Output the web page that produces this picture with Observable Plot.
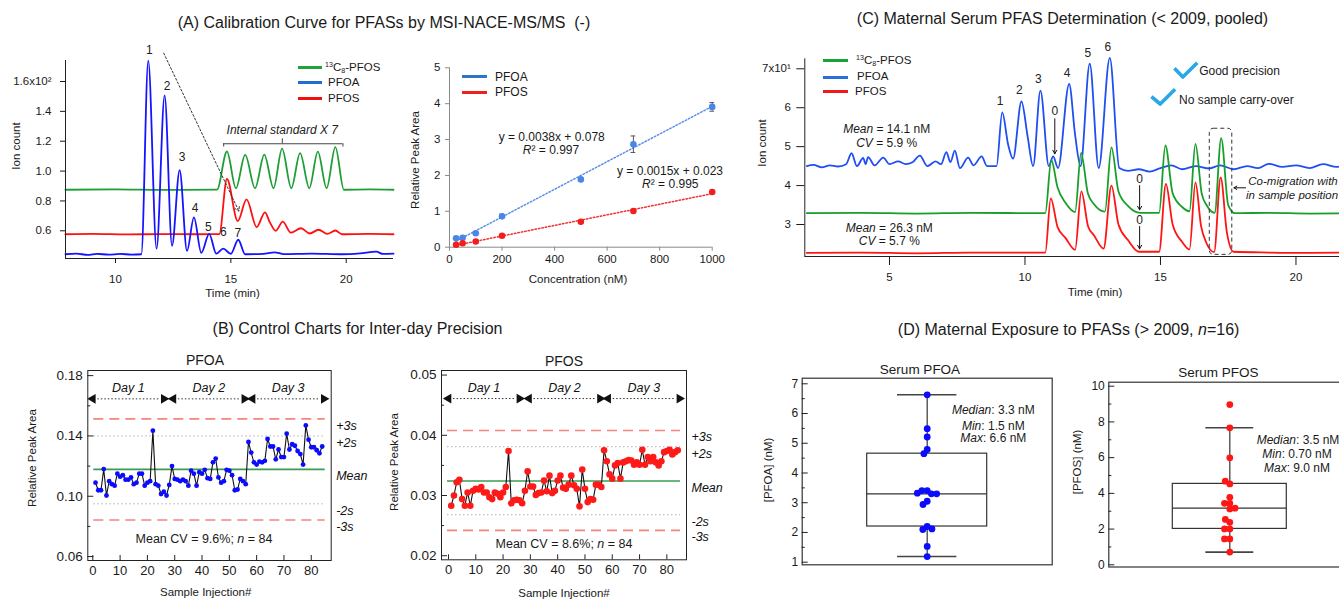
<!DOCTYPE html>
<html><head><meta charset="utf-8">
<script src="https://cdn.jsdelivr.net/npm/d3@7"></script>
<script src="https://cdn.jsdelivr.net/npm/@observablehq/plot@0.6"></script>
<style>
html,body{margin:0;padding:0;background:#fff;overflow:hidden;}
#root{position:relative;width:1339px;height:600px;overflow:hidden;font-family:Arial,"Liberation Sans",Helvetica,sans-serif;color:#1a1a1a;background:#fff;}
.t{position:absolute;white-space:nowrap;line-height:1;}
.sw{position:absolute;height:3px;}
</style></head><body><div id="root"></div>
<script>
// ---------------- DATA ----------------
// (A) chromatogram traces [time (min), ion count]
const aPFOA = [[7.83,0.443],[8.3,0.447],[8.8,0.439],[9.2,0.446],[9.7,0.44],[10.2,0.445],[10.7,0.441],[11.12,0.443],[11.42,1.74],[11.78,0.48],[12.13,1.507],[12.45,0.50],[12.78,1.007],[13.1,0.465],[13.4,0.69],[13.72,0.452],[14.06,0.58],[14.37,0.447],[14.67,0.48],[15.0,0.446],[15.32,0.54],[15.62,0.443],[16.4,0.446],[16.9,0.456],[17.3,0.444],[18.5,0.447],[19.8,0.443],[20.6,0.449],[21.3,0.46],[21.6,0.445],[22.05,0.447]];
const aPFOS = [[7.83,0.577],[9,0.579],[10.5,0.576],[12,0.578],[13.5,0.577],[14.5,0.578],[14.83,0.947],[15.3,0.665],[15.68,0.81],[16.12,0.625],[16.48,0.724],[16.68,0.66],[16.95,0.6],[17.25,0.662],[17.6,0.588],[18.04,0.617],[18.42,0.582],[18.8,0.607],[19.18,0.58],[19.53,0.602],[19.82,0.577],[21,0.579],[22.05,0.577]];
const aIS = [[7.83,0.875],[10,0.877],[12,0.874],[14.4,0.876],[14.83,1.131],[15.22,0.885],[15.62,1.108],[16.05,0.885],[16.45,1.11],[16.85,0.885],[17.22,1.15],[17.62,0.885],[18.0,1.12],[18.4,0.885],[18.77,1.13],[19.15,0.885],[19.53,1.16],[19.9,0.875],[21,0.877],[22.05,0.875]];
const aPeakNum = ["1","2","3","4","5","6","7"];
const aPeakLabelT = [11.47,12.24,12.89,13.45,14.02,14.67,15.3];
const aPeakLabelV = [1.812,1.567,1.093,0.754,0.624,0.591,0.587];
const aYTicks = [0.6,0.8,1.0,1.2,1.4,1.6];
const aXTicks = [10,15,20];

// (A) calibration
const calConc = [25,50,100,200,500,700,1000];
const calPFOA = [0.25,0.26,0.39,0.86,1.89,2.87,3.91];
const calPFOAerr = [0.02,0.02,0.02,0.06,0.03,0.23,0.12];
const calPFOS = [0.07,0.11,0.16,0.32,0.71,1.01,1.54];
const calXTicks = [0,200,400,600,800,1000];
const calYTicks = [0,1,2,3,4,5];

// (B) control charts
const ctrlPFOA = [0.109,0.104,0.104,0.118,0.1005,0.110,0.108,0.107,0.115,0.113,0.114,0.111,0.111,0.1125,0.108,0.109,0.115,0.115,0.107,0.109,0.110,0.1435,0.108,0.107,0.1015,0.103,0.1005,0.1075,0.120,0.1115,0.111,0.110,0.111,0.110,0.107,0.117,0.115,0.107,0.116,0.115,0.1175,0.112,0.1115,0.1225,0.125,0.1125,0.109,0.110,0.1175,0.117,0.114,0.104,0.1045,0.1115,0.110,0.108,0.136,0.129,0.1225,0.121,0.123,0.1225,0.1235,0.138,0.133,0.133,0.1245,0.131,0.126,0.126,0.1415,0.131,0.1345,0.1335,0.130,0.128,0.121,0.147,0.1375,0.1325,0.1325,0.1305,0.1285,0.133];
const ctrlPFOS = [0.0283,0.0300,0.0322,0.0326,0.0294,0.0283,0.0305,0.0283,0.0308,0.0311,0.0310,0.0314,0.0305,0.0305,0.0297,0.0294,0.0305,0.0303,0.0297,0.0305,0.0314,0.0374,0.0287,0.0292,0.0293,0.0292,0.0287,0.0308,0.0340,0.0315,0.0315,0.0301,0.0304,0.0305,0.0325,0.0307,0.0333,0.0304,0.0308,0.0325,0.0333,0.0313,0.0311,0.0318,0.0333,0.0317,0.0311,0.0282,0.0343,0.0311,0.0289,0.0294,0.0293,0.0318,0.0318,0.0314,0.0375,0.0357,0.0335,0.0328,0.0350,0.0354,0.0328,0.0355,0.0357,0.0359,0.0358,0.0351,0.0355,0.0351,0.0376,0.0351,0.0364,0.0357,0.0364,0.0355,0.0350,0.0357,0.0372,0.0374,0.0376,0.0368,0.0372,0.0375];
const limitLabels = ["+3s","+2s","Mean","-2s","-3s"];
const limitKinds = ["3s","2s","mean","2s","3s"];
const limitsPFOA = [0.1513,0.1400,0.1178,0.0950,0.0843];
const limitsPFOS = [0.0408,0.0381,0.0324,0.0268,0.0242];
const dayNames = ["Day 1","Day 2","Day 3"];
const dayStart = [0,29.5,58.5];
const dayEnd = [26,55.5,84.6];
const ctrlXTicks = [0,10,20,30,40,50,60,70,80];

// (C) maternal serum electropherogram
const cPFOA = [[1.95,4.50],[2.2,4.53],[2.5,4.47],[2.8,4.52],[3.1,4.49],[3.4,4.55],[3.6,4.83],[3.8,4.5],[4.03,4.71],[4.12,4.55],[4.21,4.73],[4.45,4.52],[4.77,4.72],[5.0,4.55],[5.32,4.62],[5.6,4.55],[5.85,4.6],[6.12,4.77],[6.4,4.5],[6.7,4.62],[6.9,4.55],[7.1,4.86],[7.25,4.6],[7.41,4.9],[7.6,4.45],[7.9,4.72],[8.1,4.52],[8.4,4.75],[8.6,4.5],[8.95,4.5],[9.16,5.88],[9.38,5.05],[9.56,4.69],[9.87,6.16],[10.1,5.25],[10.3,4.5],[10.57,6.44],[10.88,4.5],[11.04,4.75],[11.22,4.45],[11.63,6.61],[11.85,5.3],[12.05,4.5],[12.39,7.13],[12.72,4.45],[13.13,7.28],[13.48,4.45],[13.8,4.38],[14.2,4.42],[14.6,4.36],[15.0,4.45],[15.4,4.52],[15.8,4.42],[16.3,4.5],[16.8,4.44],[17.2,4.52],[17.7,4.42],[18.2,4.5],[18.6,4.45],[19.0,4.56],[19.5,4.48],[20,4.52],[20.5,4.45],[21,4.55],[21.5,4.48],[22,4.55],[22.3,4.5]];
const cIS = [[1.95,3.29],[4,3.3],[6,3.28],[8,3.3],[10.75,3.29],[10.97,4.66],[11.2,3.96],[11.5,3.55],[11.85,3.32],[12.07,4.84],[12.32,3.8],[12.55,3.52],[12.95,3.33],[13.19,4.98],[13.45,3.85],[13.8,3.48],[14.25,3.3],[14.95,3.3],[15.18,5.03],[15.45,3.8],[15.8,3.45],[16.07,3.34],[16.29,5.07],[16.52,3.8],[16.7,3.5],[17.0,3.3],[17.24,5.22],[17.5,3.5],[17.75,3.29],[19,3.3],[20.5,3.28],[22.3,3.29]];
const cPFOS = [[1.95,2.27],[4,2.28],[6,2.26],[8,2.28],[10.75,2.28],[10.95,3.67],[11.2,2.94],[11.5,2.65],[11.85,2.35],[12.08,3.85],[12.33,2.95],[12.55,2.72],[12.9,2.38],[13.19,4.0],[13.45,3.0],[13.8,2.6],[14.2,2.3],[14.95,2.3],[15.2,4.04],[15.45,3.0],[15.8,2.55],[16.07,2.36],[16.29,4.08],[16.5,2.95],[16.68,2.55],[16.98,2.29],[17.22,4.21],[17.45,2.8],[17.7,2.3],[19,2.28],[20.5,2.27],[22.3,2.28]];
const cPeakNum = ["1","2","3","4","5","6"];
const cPeakT = [9.16,9.87,10.57,11.63,12.39,13.13];
const cPeakV = [5.88,6.16,6.44,6.61,7.13,7.28];
const cZeroT = [11.1,14.23,14.23];
const cZeroFrom = [5.716,4.0,2.949];
const cZeroTo = [4.817,3.378,2.376];
const cZeroLabelV = [5.903,4.174,3.103];
const cYTicks = [3,4,5,6,7];
const cXTicks = [5,10,15,20];

// (D) maternal exposure, n=16
const serumPFOA = [6.63,5.49,5.21,4.79,4.65,3.41,3.41,3.30,3.30,3.32,3.05,2.94,2.20,2.10,2.12,1.53,1.19];
const serumPFOS = [8.97,7.67,5.99,4.53,4.68,3.78,3.44,3.44,3.13,3.17,2.38,2.54,2.01,2.01,1.45,1.45,0.71];

// ---------------- HELPERS ----------------
const root = document.getElementById("root");
const FONT = "Arial, 'Liberation Sans', Helvetica, sans-serif";
const common = {background:"transparent", fontFamily:FONT, fontSize:"11px", color:"#1a1a1a", overflow:"visible"};
const xy = {x: d => d[0], y: d => d[1]};
const intFmt = d3.format("d");
function put(svg, left, top) {
  svg.style.position = "absolute"; svg.style.left = left + "px"; svg.style.top = top + "px"; svg.style.maxWidth = "none";
  root.append(svg);
}
function txt(html, x, y, {size = 12, anchor = "middle", rotate = 0, style = ""} = {}) {
  const d = document.createElement("div");
  d.className = "t"; d.innerHTML = html;
  const tx = anchor === "middle" ? "-50%" : anchor === "end" ? "-100%" : "0";
  d.style.cssText += `left:${x}px;top:${y}px;font-size:${size}px;transform:translate(${tx},-50%)${rotate ? ` rotate(${rotate}deg)` : ""};${style}`;
  root.append(d);
}
function swatch(color, x1, x2, y) {
  const d = document.createElement("div");
  d.className = "sw";
  d.style.cssText += `left:${x1}px;top:${y - 1.5}px;width:${x2 - x1}px;background:${color};`;
  root.append(d);
}
const sup = s => `<span style="font-size:0.62em;position:relative;top:-0.55em">${s}</span>`;
const sub = s => `<span style="font-size:0.62em;position:relative;top:0.3em">${s}</span>`;
const IS_LABEL = `${sup("13")}C${sub("8")}-PFOS`;
function insideY(ticks, size) { return Plot.axisY({ticks, tickSize: size, tickFormat: () => "", dx: size, label: null, stroke: "#222"}); }
function insideX(ticks, size) { return Plot.axisX({ticks, tickSize: size, tickFormat: () => "", dy: -size, label: null, stroke: "#222"}); }

// ---------------- (A) chromatogram ----------------
put(Plot.plot({
  width: 400, height: 310, marginLeft: 65, marginRight: 7, marginTop: 60, marginBottom: 52,
  x: {domain: [7.833, 22.05]}, y: {domain: [0.4145, 1.7406]}, style: common,
  marks: [
    Plot.line(aIS, {...xy, stroke: "#1f9e35", strokeWidth: 1.8, curve: "monotone-x"}),
    Plot.line(aPFOS, {...xy, stroke: "#ff1010", strokeWidth: 1.8, curve: "monotone-x"}),
    Plot.line(aPFOA, {...xy, stroke: "#1414ff", strokeWidth: 1.8, curve: "monotone-x"}),
    Plot.ruleX([7.833], {stroke: "#222"}),
    Plot.ruleY([0.4145], {stroke: "#222"}),
    Plot.axisY({ticks: aYTicks, tickFormat: d => d === 1.6 ? "1.6x10²" : d.toFixed(1), tickSize: 5, tickPadding: 9, fontSize: 11.5, label: null}),
    Plot.axisX({ticks: aXTicks, tickSize: 5, tickPadding: 11, fontSize: 11.5, label: null}),
    Plot.text(aPeakNum, {x: (d, i) => aPeakLabelT[i], y: (d, i) => aPeakLabelV[i], text: d => d, fontSize: 12, fill: "#222"}),
    Plot.arrow([{x1: 12.09, y1: 1.79, x2: 15.35, y2: 0.731}], {x1: "x1", y1: "y1", x2: "x2", y2: "y2", stroke: "#333", strokeWidth: 1, strokeDasharray: "2,2", headLength: 7}),
    Plot.ruleY([1.183], {x1: 14.69, x2: 19.86, stroke: "#444"}),
    Plot.ruleX([14.69, 19.86], {y1: 1.161, y2: 1.183, stroke: "#444"}),
    Plot.ruleX([17.23], {y1: 1.183, y2: 1.216, stroke: "#444"}),
    Plot.text(["Internal standard X 7"], {x: 17.23, y: 1.272, text: d => d, fontStyle: "italic", fontSize: 12, fill: "#222"})
  ]
}), 0, 0);

// ---------------- (A) calibration ----------------
const calTable = calConc.map((c, i) => ({conc: c, pfoa: calPFOA[i], err: calPFOAerr[i], pfos: calPFOS[i]}));
put(Plot.plot({
  width: 350, height: 270, marginLeft: 59, marginRight: 28.3, marginTop: 27.3, marginBottom: 63.3,
  x: {domain: [0, 1000]}, y: {domain: [0, 5]}, style: common,
  marks: [
    Plot.ruleX([0], {stroke: "#8a8a8a"}),
    Plot.ruleY([0], {stroke: "#8a8a8a"}),
    Plot.axisY({ticks: calYTicks, tickFormat: intFmt, tickSize: 4, tickPadding: 5, fontSize: 11.5, label: null, stroke: "#8a8a8a"}),
    Plot.axisX({ticks: calXTicks, tickFormat: intFmt, tickSize: 4, tickPadding: 4, fontSize: 11.5, label: null, stroke: "#8a8a8a"}),
    Plot.linearRegressionY(calTable, {x: "conc", y: "pfoa", ci: 0, stroke: "#5b8fe8", strokeWidth: 1.5, strokeDasharray: "1.5,2"}),
    Plot.linearRegressionY(calTable, {x: "conc", y: "pfos", ci: 0, stroke: "#f03030", strokeWidth: 1.5, strokeDasharray: "1.5,2"}),
    Plot.ruleX(calTable, {x: "conc", y1: d => d.pfoa - d.err, y2: d => d.pfoa + d.err, stroke: "#555"}),
    Plot.ruleY(calTable, {y: d => d.pfoa + d.err, x1: d => d.conc - 9, x2: d => d.conc + 9, stroke: "#555"}),
    Plot.ruleY(calTable, {y: d => d.pfoa - d.err, x1: d => d.conc - 9, x2: d => d.conc + 9, stroke: "#555"}),
    Plot.dot(calTable, {x: "conc", y: "pfoa", fill: "#4a86e8", r: 3.3}),
    Plot.dot(calTable, {x: "conc", y: "pfos", fill: "#f21d1d", r: 3.3})
  ]
}), 390, 40);

// ---------------- (B) control charts ----------------
function ctrl({values, limits, color, r, xDomain, yDomain, yMajor, yMinor, dayY, dayLabelY, ml, mr, mb}) {
  const pts = values.map((v, i) => ({i: i + 1, v}));
  const lim = limits.map((v, i) => ({v, label: limitLabels[i], kind: limitKinds[i]}));
  const days = dayNames.map((n, i) => ({n, x1: dayStart[i], x2: dayEnd[i]}));
  return Plot.plot({
    width: 370, height: 260, marginLeft: ml, marginRight: mr, marginTop: 30, marginBottom: mb,
    x: {domain: xDomain}, y: {domain: yDomain}, style: common,
    marks: [
      Plot.ruleY(lim.filter(d => d.kind === "2s"), {y: "v", stroke: "#b0b0b0", strokeDasharray: "1.5,2.5", insetLeft: 6, insetRight: 6}),
      Plot.ruleY(lim.filter(d => d.kind === "3s"), {y: "v", stroke: "#f5857e", strokeWidth: 1.6, strokeDasharray: "10,6", insetLeft: 6, insetRight: 6}),
      Plot.ruleY(lim.filter(d => d.kind === "mean"), {y: "v", stroke: "#3b9b53", strokeWidth: 1.6, insetLeft: 6, insetRight: 6}),
      Plot.line(pts, {x: "i", y: "v", stroke: "#111", strokeWidth: 1.1}),
      Plot.dot(pts, {x: "i", y: "v", fill: color, r}),
      Plot.ruleY(days, {y: () => dayY, x1: "x1", x2: "x2", stroke: "#333", strokeDasharray: "1.5,2", insetLeft: 5, insetRight: 5}),
      Plot.dot(days, {x: "x1", y: () => dayY, symbol: "triangle", rotate: -90, fill: "#111", r: 3.6}),
      Plot.dot(days, {x: "x2", y: () => dayY, symbol: "triangle", rotate: 90, fill: "#111", r: 3.6}),
      Plot.text(days, {x: d => (d.x1 + d.x2) / 2, y: () => dayLabelY, text: "n", fontStyle: "italic", fontSize: 12.5, fill: "#111"}),
      Plot.text(lim, {y: "v", text: "label", frameAnchor: "right", textAnchor: "start", dx: 5, dy: 7, fontStyle: "italic", fontSize: 12.5, fill: "#111"}),
      Plot.frame({stroke: "#222"}),
      Plot.axisY({ticks: yMajor, tickSize: 0, tickPadding: 5, tickFormat: d3.format(".2f"), fontSize: 13.5, label: null}),
      insideY(yMajor, 6), insideY(yMinor, 3),
      Plot.axisX({ticks: ctrlXTicks, tickSize: 0, tickPadding: 5, fontSize: 13, label: null}),
      insideX(ctrlXTicks, 5)
    ]
  });
}
put(ctrl({values: ctrlPFOA, limits: limitsPFOA, color: "#0b0bff", r: 2.4, xDomain: [-1.83, 87.3], yDomain: [0.0574, 0.1834],
  yMajor: [0.06, 0.10, 0.14, 0.18], yMinor: [0.08, 0.12, 0.16], dayY: 0.1646, dayLabelY: 0.1719, ml: 87.3, mr: 39.3, mb: 40}), 0, 340);
put(ctrl({values: ctrlPFOS, limits: limitsPFOS, color: "#ff1a1a", r: 3.3, xDomain: [-2.56, 87.2], yDomain: [0.01932, 0.05076],
  yMajor: [0.02, 0.03, 0.04, 0.05], yMinor: [0.025, 0.035, 0.045], dayY: 0.0461, dayLabelY: 0.0479, ml: 71, mr: 54, mb: 40.7}), 370, 340);

// ---------------- (C) maternal serum ----------------
const cPeaks = cPeakNum.map((n, i) => ({n, t: cPeakT[i], v: cPeakV[i]}));
const cZeros = cZeroT.map((t, i) => ({t, from: cZeroFrom[i], to: cZeroTo[i], lv: cZeroLabelV[i]}));
put(Plot.plot({
  width: 640, height: 310, marginLeft: 64.3, marginRight: 22.2, marginTop: 58.3, marginBottom: 54,
  x: {domain: [1.875, 22.3]}, y: {domain: [2.178, 7.257]}, style: common,
  marks: [
    Plot.line(cPFOA, {...xy, stroke: "#1f4ef2", strokeWidth: 1.8, curve: "monotone-x"}),
    Plot.line(cIS, {...xy, stroke: "#16a02a", strokeWidth: 1.8, curve: "monotone-x"}),
    Plot.line(cPFOS, {...xy, stroke: "#ff1414", strokeWidth: 1.8, curve: "monotone-x"}),
    Plot.ruleX([1.875], {stroke: "#222"}),
    Plot.ruleY([2.178], {stroke: "#222"}),
    Plot.axisY({ticks: cYTicks, tickFormat: d => d === 7 ? "7x10¹" : String(d), tickSize: 8, tickPadding: 6, fontSize: 11.5, label: null}),
    Plot.axisX({ticks: cXTicks, tickSize: 9, tickPadding: 7, fontSize: 11.5, label: null}),
    Plot.text(cPeaks, {x: "t", y: "v", text: "n", dy: -11, dx: -2, fontSize: 12, fill: "#222"}),
    Plot.arrow(cZeros, {x1: "t", x2: "t", y1: "from", y2: "to", stroke: "#111", strokeWidth: 1, headLength: 6}),
    Plot.text(cZeros, {x: "t", y: "lv", text: () => "0", fontSize: 12, fill: "#222"}),
    Plot.rect([{x1: 16.82, x2: 17.65, y1: 2.22, y2: 5.46}], {x1: "x1", x2: "x2", y1: "y1", y2: "y2", fill: "none", stroke: "#333", strokeDasharray: "4,3", rx: 4}),
    Plot.arrow([{x1: 18.14, x2: 17.71, y: 3.943}], {x1: "x1", x2: "x2", y1: "y", y2: "y", stroke: "#111", strokeWidth: 1, headLength: 5})
  ]
}), 740, 0);

// ---------------- (D) box plots ----------------
function boxPlot({values, color, yDomain, major, minor, bw, cw, ml, mr, mt, mb}) {
  const s = values.slice().sort(d3.ascending);
  const q1 = d3.quantile(s, 0.25), med = d3.quantile(s, 0.5), q3 = d3.quantile(s, 0.75), iqr = q3 - q1;
  const lo = d3.min(s.filter(v => v >= q1 - 1.5 * iqr)), hi = d3.max(s.filter(v => v <= q3 + 1.5 * iqr));
  return Plot.plot({
    width: 300, height: 250, marginLeft: ml, marginRight: mr, marginTop: mt, marginBottom: mb,
    x: {domain: [-1, 1], axis: null}, y: {domain: yDomain}, style: common,
    marks: [
      Plot.ruleX([0], {y1: q3, y2: hi, stroke: "#444", strokeWidth: 1.3}),
      Plot.ruleX([0], {y1: lo, y2: q1, stroke: "#444", strokeWidth: 1.3}),
      Plot.ruleY([lo, hi], {x1: -cw, x2: cw, stroke: "#444", strokeWidth: 1.6}),
      Plot.rect([{q1, q3}], {x1: -bw, x2: bw, y1: "q1", y2: "q3", fill: "none", stroke: "#333", strokeWidth: 1.2}),
      Plot.ruleY([med], {x1: -bw, x2: bw, stroke: "#333", strokeWidth: 1.2}),
      Plot.dot(values, Plot.dodgeX({anchor: "middle", padding: -1.5}, {y: d => d, r: 3.4, fill: color})),
      Plot.frame({stroke: "#333", strokeWidth: 1.2}),
      Plot.axisY({ticks: major, tickFormat: intFmt, tickSize: 0, tickPadding: 4, fontSize: 12, label: null}),
      insideY(major, 6), insideY(minor, 3)
    ]
  });
}
put(boxPlot({values: serumPFOA, color: "#0b0bff", yDomain: [0.9125, 7.188], major: [1,2,3,4,5,6,7], minor: [1.5,2.5,3.5,4.5,5.5,6.5],
  bw: 0.48, cw: 0.2376, ml: 41.7, mr: 8.3, mt: 27.7, mb: 35.7}), 760, 350);
put(boxPlot({values: serumPFOS, color: "#ff1616", yDomain: [-0.123, 10.224], major: [0,2,4,6,8,10], minor: [1,3,5,7,9],
  bw: 0.471, cw: 0.198, ml: 43.3, mr: 14.7, mt: 31.7, mb: 33.5}), 1065, 350);

// ---------------- TEXT, LEGENDS, DECORATIONS ----------------
txt("(A) Calibration Curve for PFASs by MSI-NACE-MS/MS&nbsp;&nbsp;(-)", 384, 23, {size: 16});
txt("(C) Maternal Serum PFAS Determination (&lt; 2009, pooled)", 1062.5, 18.5, {size: 16});
txt("(B) Control Charts for Inter-day Precision", 357.5, 328.5, {size: 16});
txt("(D) Maternal Exposure to PFASs (&gt; 2009, <i>n</i>=16)", 1068.6, 330, {size: 16});

// (A) chromatogram
txt("Ion count", 16.5, 146, {size: 11.5, rotate: -90});
txt("Time (min)", 232.5, 294, {size: 11.5});
swatch("#21a336", 297.7, 321.7, 67.7); swatch("#1f6fd0", 297.7, 321.7, 82.7); swatch("#f01010", 297.7, 321.7, 98.7);
txt(IS_LABEL, 325, 67.7, {size: 11.5, anchor: "start"});
txt("PFOA", 328, 82.7, {size: 11.5, anchor: "start"});
txt("PFOS", 328, 98.7, {size: 11.5, anchor: "start"});
// (A) calibration
txt("Relative Peak Area", 416, 160, {size: 11.5, rotate: -90});
txt("Concentration (nM)", 578, 280, {size: 11.5});
swatch("#2e75c8", 461.7, 486.7, 76.7); swatch("#f02020", 461.7, 486.7, 92.3);
txt("PFOA", 495, 76.7, {size: 12, anchor: "start"});
txt("PFOS", 495, 92.3, {size: 12, anchor: "start"});
txt("y = 0.0038x + 0.078", 551.7, 137, {size: 12});
txt("<i>R</i>² = 0.997", 551, 149.5, {size: 12});
txt("y = 0.0015x + 0.023", 670, 171, {size: 12});
txt("<i>R</i>² = 0.995", 670.3, 183.5, {size: 12});

// (B)
txt("PFOA", 205, 360, {size: 14});
txt("PFOS", 564, 360.7, {size: 14});
txt("Relative Peak Area", 33.3, 458, {size: 11.5, rotate: -90});
txt("Relative Peak Area", 395, 461.7, {size: 11.5, rotate: -90});
txt("Sample Injection#", 205.7, 593.3, {size: 11.5});
txt("Sample Injection#", 564, 594, {size: 11.5});
txt("Mean CV = 9.6%; <i>n</i> = 84", 204, 539.3, {size: 12.5});
txt("Mean CV = 8.6%; <i>n</i> = 84", 564, 544.3, {size: 12.5});

// (C)
txt("Ion count", 763, 143, {size: 11.5, rotate: -90});
txt("Time (min)", 1095, 292.7, {size: 11.5});
swatch("#1aa332", 823.3, 847.7, 60.7); swatch("#2a6ed6", 823.3, 847.7, 77.3); swatch("#f01818", 823.3, 847.7, 91.7);
txt(IS_LABEL, 856, 60.7, {size: 11.5, anchor: "start"});
txt("PFOA", 857, 77.3, {size: 11.5, anchor: "start"});
txt("PFOS", 855, 91.7, {size: 11.5, anchor: "start"});
txt("<i>Mean</i> = 14.1 nM", 886.7, 129.3, {size: 12});
txt("<i>CV</i> = 5.9 %", 886.7, 142.7, {size: 12});
txt("<i>Mean</i> = 26.3 nM", 889.3, 228.3, {size: 12});
txt("<i>CV</i> = 5.7 %", 889.3, 241, {size: 12});
txt("Good precision", 1199.2, 71, {size: 12, anchor: "start"});
txt("No sample carry-over", 1179, 100, {size: 12, anchor: "start"});
txt("Co-migration with", 1248.3, 182.3, {size: 11.5, anchor: "start", style: "font-style:italic"});
txt("in sample position", 1246, 195.5, {size: 11.5, anchor: "start", style: "font-style:italic"});
{
  const ns = "http://www.w3.org/2000/svg";
  const s = document.createElementNS(ns, "svg");
  s.setAttribute("width", 1339); s.setAttribute("height", 600);
  s.style.cssText = "position:absolute;left:0;top:0;pointer-events:none;";
  for (const pts of ["1174.4,68.3 1182.8,77 1197.3,62.7", "1151.4,96.7 1160.2,104 1175.1,89.3"]) {
    const p = document.createElementNS(ns, "polyline");
    p.setAttribute("points", pts); p.setAttribute("fill", "none"); p.setAttribute("stroke", "#28a8e6");
    p.setAttribute("stroke-width", "3.6"); p.setAttribute("stroke-linejoin", "round");
    s.append(p);
  }
  root.append(s);
}

// (D)
txt("Serum PFOA", 920, 370, {size: 13.5});
txt("Serum PFOS", 1218.3, 373.3, {size: 13.5});
txt("[PFOA] (nM)", 768.8, 470, {size: 11.5, rotate: -90});
txt("[PFOS] (nM)", 1078.3, 461.7, {size: 11.5, rotate: -90});
txt("<i>Median</i>: 3.3 nM", 993.3, 410, {size: 12});
txt("<i>Min</i>: 1.5 nM", 993.3, 425.7, {size: 12});
txt("<i>Max</i>: 6.6 nM", 993.3, 438.3, {size: 12});
txt("<i>Median</i>: 3.5 nM", 1298, 440, {size: 12});
txt("<i>Min</i>: 0.70 nM", 1297, 454.3, {size: 12});
txt("<i>Max</i>: 9.0 nM", 1297, 468.3, {size: 12});
</script></body></html>
